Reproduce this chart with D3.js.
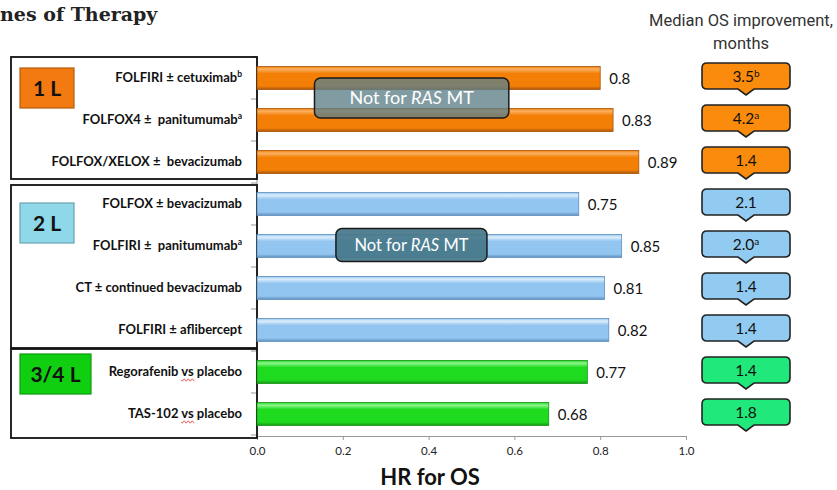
<!DOCTYPE html>
<html><head><meta charset="utf-8">
<script src="https://cdn.jsdelivr.net/npm/d3@7"></script>
<style>body{margin:0;background:#fff}svg{display:block}text{white-space:pre}</style>
</head><body><svg id="c" width="837" height="490"></svg>
<script>
const categories = ["FOLFIRI ± cetuximab","FOLFOX4 ±  panitumumab","FOLFOX/XELOX ±  bevacizumab",
  "FOLFOX ± bevacizumab","FOLFIRI ±  panitumumab","CT ± continued bevacizumab","FOLFIRI ± aflibercept",
  "Regorafenib vs placebo","TAS-102 vs placebo"];
const catSup = ["b","a","","","a","","","",""];
const hrValues = [0.8,0.83,0.89,0.75,0.85,0.81,0.82,0.77,0.68];
const lineOfTherapy = ["1 L","1 L","1 L","2 L","2 L","2 L","2 L","3/4 L","3/4 L"];
const osImprovement = ["3.5","4.2","1.4","2.1","2.0","1.4","1.4","1.4","1.8"];
const osSup = ["b","a","","","a","","","",""];
const xTicks = [0,0.2,0.4,0.6,0.8,1.0];
const groups = ["1 L","2 L","3/4 L"];
const notForRas = [{from:0,to:1},{from:4,to:4}];

const svg = d3.select("#c");
const calibri = "Lato, 'Open Sans', sans-serif";
const x = d3.scaleLinear().domain([0,1]).range([257,686]);
const y = d3.scaleBand().domain(d3.range(categories.length)).range([57,435]).paddingInner(0.45).paddingOuter(0.225);
const yb = d3.scaleBand().domain(d3.range(categories.length)).range([57,435]);

const colors = {"1 L":{top:"#FBB062",mid:"#F47F06",bot:"#A8550A",box:"#F27A10",call:"#FB8B0C"},
                "2 L":{top:"#DDEEFB",mid:"#92C5F0",bot:"#5F8FBE",box:"#8ED8EA",call:"#92CBF2"},
                "3/4 L":{top:"#8CF58C",mid:"#1FDB1F",bot:"#159515",box:"#10CF10",call:"#20E87A"}};
const defs = svg.append("defs");
groups.forEach((g,i)=>{
  const lg = defs.append("linearGradient").attr("id","g"+i).attr("x1",0).attr("x2",0).attr("y1",0).attr("y2",1);
  lg.append("stop").attr("offset","0%").attr("stop-color",colors[g].mid);
  lg.append("stop").attr("offset","12%").attr("stop-color",colors[g].top);
  lg.append("stop").attr("offset","30%").attr("stop-color",colors[g].mid);
  lg.append("stop").attr("offset","85%").attr("stop-color",colors[g].mid);
  lg.append("stop").attr("offset","100%").attr("stop-color",colors[g].bot);
});

// title
svg.append("text").attr("x",0).attr("y",21).attr("font-family","'DejaVu Serif', serif").attr("font-weight","bold")
  .attr("font-size",19).attr("fill","#222").text("nes of Therapy");

// header right
svg.append("text").attr("x",741).attr("y",26).attr("text-anchor","middle").attr("font-family","Roboto, sans-serif")
  .attr("font-size",16.5).attr("fill","#333").text("Median OS improvement,");
svg.append("text").attr("x",741).attr("y",49).attr("text-anchor","middle").attr("font-family","Roboto, sans-serif")
  .attr("font-size",16.5).attr("fill","#333").text("months");

// left axis
const leftAxis = svg.append("g").attr("transform","translate(257,0)");
leftAxis.append("line").attr("y1",57).attr("y2",436).attr("stroke","#999");
leftAxis.selectAll("line.t").data(d3.range(categories.length+1)).enter().append("line")
  .attr("x1",-6).attr("x2",0).attr("y1",d=>57+d*yb.bandwidth()).attr("y2",d=>57+d*yb.bandwidth()).attr("stroke","#999");

// bottom axis
const ax = svg.append("g").attr("transform","translate(0,436)")
  .call(d3.axisBottom(x).tickValues(xTicks).tickFormat(d3.format(".1f")).tickSize(4).tickPadding(7));
ax.select(".domain").attr("stroke","#999");
ax.selectAll(".tick line").attr("stroke","#999");
ax.selectAll(".tick text").attr("font-family",calibri).attr("font-size",11.5).attr("fill","#222");
svg.append("text").attr("x",430).attr("y",485).attr("text-anchor","middle").attr("font-family",calibri)
  .attr("font-weight","bold").attr("font-size",22).attr("fill","#111").text("HR for OS");

// group boxes
groups.forEach((g,gi)=>{
  const idx = d3.range(categories.length).filter(i=>lineOfTherapy[i]===g);
  const y0 = yb(idx[0]), y1 = yb(idx[idx.length-1])+yb.bandwidth();
  const pad = [[0,-4],[2,-3],[-2,3]][gi];
  svg.append("rect").attr("x",11).attr("y",y0+pad[0]).attr("width",246).attr("height",y1-y0-pad[0]+pad[1])
    .attr("fill","none").attr("stroke","#111").attr("stroke-width",1.8);
  const bw = g==="3/4 L"?71:54;
  const by = y0 + [11,20,3][gi];
  svg.append("rect").attr("x",20).attr("y",by).attr("width",bw).attr("height",40)
    .attr("fill",colors[g].box).attr("stroke",d3.color(colors[g].box).darker(0.8)).attr("stroke-width",1.2);
  svg.append("text").attr("x",20+bw/2).attr("y",by+28).attr("text-anchor","middle").attr("font-family",calibri)
    .attr("font-weight","bold").attr("font-size",21).attr("fill","#111").text(g);
});

// category labels
categories.forEach((c,i)=>{
  const t = svg.append("text").attr("x",242).attr("y",y(i)+y.bandwidth()/2+4).attr("text-anchor","end")
    .attr("font-family",calibri).attr("font-weight","bold").attr("font-size",13).attr("fill","#111");
  t.append("tspan").text(c);
  if(catSup[i]) t.append("tspan").attr("dy",-5).attr("font-size",8.5).text(catSup[i]);
  const vi = c.indexOf(" vs ");
  if(vi>=0){
    const node = t.node();
    const total = node.getComputedTextLength();
    const start = 242 - total + node.getSubStringLength(0,vi+1);
    const w = node.getSubStringLength(vi+1,2);
    const yy = y(i)+y.bandwidth()/2+8;
    let p = `M${start},${yy}`;
    for(let k=0;k<w;k+=2) p += ` L${start+k+1},${yy+(k/2%2?-1.2:1.2)}`;
    svg.append("path").attr("d",p).attr("fill","none").attr("stroke","#e03030").attr("stroke-width",0.8);
  }
});

// bars
categories.forEach((c,i)=>{
  const gi = groups.indexOf(lineOfTherapy[i]);
  svg.append("rect").attr("x",x(0)).attr("y",y(i)).attr("width",x(hrValues[i])-x(0)).attr("height",y.bandwidth())
    .attr("fill",`url(#g${gi})`).attr("stroke",colors[lineOfTherapy[i]].bot).attr("stroke-width",0.8);
  svg.append("text").attr("x",x(hrValues[i])+9).attr("y",y(i)+y.bandwidth()/2+6).attr("font-family",calibri)
    .attr("font-size",15).attr("fill","#111").text(hrValues[i]);
});

// Not for RAS MT boxes
notForRas.forEach((n,k)=>{
  const cy = (yb(n.from)+yb(n.to)+yb.bandwidth())/2 - 1;
  const x0 = k===0?x(0.134):x(0.184), x1 = k===0?x(0.587):x(0.536);
  const h = k===0?40:33;
  svg.append("rect").attr("x",x0).attr("y",cy-h/2).attr("width",x1-x0).attr("height",h).attr("rx",6)
    .attr("fill",k===0?"#5E7F88":"#47778A").attr("fill-opacity",k===0?0.78:0.92).attr("stroke","#1a1a1a").attr("stroke-width",1.5);
  const t = svg.append("text").attr("x",(x0+x1)/2).attr("y",cy+6).attr("text-anchor","middle")
    .attr("font-family",calibri).attr("font-size",k===0?18:16.5).attr("fill","#fff");
  t.append("tspan").text("Not for ");
  t.append("tspan").attr("font-style","italic").text("RAS");
  t.append("tspan").text(" MT");
});

// callouts
const cw = 88, ch = 26;
categories.forEach((c,i)=>{
  const g = lineOfTherapy[i];
  const cy = y(i)+y.bandwidth()/2 - 2;
  const x0 = 702, y0 = cy - ch/2, r = 5, mx = x0+cw/2;
  const p = `M${x0+r},${y0} H${x0+cw-r} Q${x0+cw},${y0} ${x0+cw},${y0+r} V${y0+ch-r} Q${x0+cw},${y0+ch} ${x0+cw-r},${y0+ch}
    H${mx+8} L${mx},${y0+ch+6} L${mx-8},${y0+ch} H${x0+r} Q${x0},${y0+ch} ${x0},${y0+ch-r} V${y0+r} Q${x0},${y0} ${x0+r},${y0} Z`;
  svg.append("path").attr("d",p).attr("fill",colors[g].call).attr("stroke","#222").attr("stroke-width",1.6);
  const t = svg.append("text").attr("x",mx).attr("y",cy+6).attr("text-anchor","middle").attr("font-family",calibri)
    .attr("font-size",15.5).attr("fill","#111");
  t.append("tspan").text(osImprovement[i]);
  if(osSup[i]) t.append("tspan").attr("dy",-5).attr("font-size",10).text(osSup[i]);
});
</script></body></html>
